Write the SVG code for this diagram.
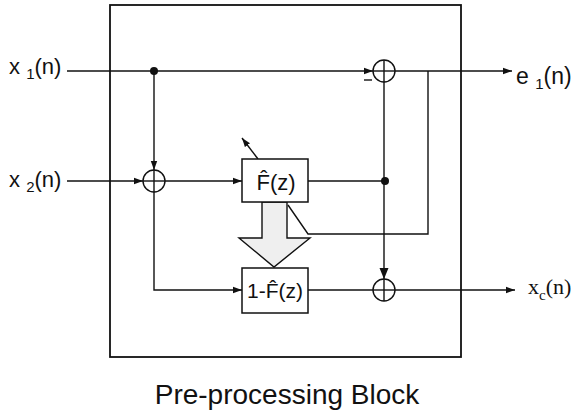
<svg xmlns="http://www.w3.org/2000/svg" width="575" height="414" viewBox="0 0 575 414">
<style>
.ln{fill:none;stroke:#111;stroke-width:1.4}
.box{fill:#fff;stroke:#111;stroke-width:1.5}
.sum{fill:#fff;stroke:#111;stroke-width:1.4}
.lbl{font-family:"Liberation Sans",Arial,sans-serif;fill:#111}
.ser{font-family:"Liberation Serif","Times New Roman",serif;fill:#111}
</style>
<defs>
<marker id="ah" markerUnits="userSpaceOnUse" markerWidth="10" markerHeight="8" refX="9" refY="4" orient="auto">
<path d="M0,0.8 L9,4 L0,7.2 Z" fill="#111"/>
</marker>
<marker id="ahL" markerUnits="userSpaceOnUse" markerWidth="12" markerHeight="10" refX="11" refY="5" orient="auto">
<path d="M0,0.5 L11,5 L0,9.5 Z" fill="#111"/>
</marker>
</defs>
<rect id="outer" x="110" y="5" width="351" height="352" fill="none" stroke="#111" stroke-width="1.8"/>
<g id="connectors">
<line class="ln" x1="67" y1="71" x2="373" y2="71" marker-end="url(#ah)"/>
<line class="ln" x1="154" y1="71" x2="154" y2="170" marker-end="url(#ah)"/>
<line class="ln" x1="67" y1="181" x2="143" y2="181" marker-end="url(#ah)"/>
<line class="ln" x1="165" y1="181" x2="242" y2="181" marker-end="url(#ah)"/>
<polyline class="ln" points="154,192 154,290 242,290" marker-end="url(#ah)"/>
<line class="ln" x1="308" y1="181" x2="385" y2="181"/>
<line class="ln" x1="384" y1="82" x2="384" y2="279" marker-end="url(#ahL)"/>
<line class="ln" x1="395" y1="71" x2="512" y2="71" marker-end="url(#ah)"/>
<polyline class="ln" points="428,71 428,234 308,234 288,205"/>
<line class="ln" x1="258" y1="159" x2="242" y2="138" marker-end="url(#ah)"/>
<line class="ln" x1="308" y1="290" x2="373" y2="290"/>
<line class="ln" x1="395" y1="290" x2="515" y2="290" marker-end="url(#ah)"/>
<circle cx="154" cy="71" r="4" fill="#111"/>
<circle cx="385" cy="181" r="4" fill="#111"/>
<line class="ln" x1="364" y1="80" x2="372" y2="80"/>
</g>
<g id="fat-arrow">
<polygon points="262,202 287,202 287,238 310,238 274,267 239,238 262,238" fill="#efefef" stroke="#111" stroke-width="1.4"/>
</g>
<g id="sum1">
<circle class="sum" cx="154" cy="181" r="11"/>
<line class="ln" x1="143" y1="181" x2="165" y2="181"/>
<line class="ln" x1="154" y1="170" x2="154" y2="192"/>
</g>
<g id="sum-top">
<circle class="sum" cx="384" cy="71" r="11"/>
<line class="ln" x1="373" y1="71" x2="395" y2="71"/>
<line class="ln" x1="384" y1="60" x2="384" y2="82"/>
</g>
<g id="sum-bottom">
<circle class="sum" cx="384" cy="290" r="11"/>
<line class="ln" x1="373" y1="290" x2="395" y2="290"/>
<line class="ln" x1="384" y1="279" x2="384" y2="301"/>
</g>
<g id="F">
<rect class="box" x="242" y="159" width="66" height="43"/>
<text class="lbl" x="276" y="190" font-size="22" text-anchor="middle">F̂(z)</text>
</g>
<g id="oneMinusF">
<rect class="box" x="242" y="268" width="66" height="45"/>
<text class="lbl" x="275" y="298" font-size="21" text-anchor="middle">1-F̂(z)</text>
</g>
<g id="x1">
<text class="lbl" x="9" y="74" font-size="22">x <tspan font-size="15" dy="5">1</tspan><tspan dy="-5">(n)</tspan></text>
</g>
<g id="x2">
<text class="lbl" x="9" y="187" font-size="22">x <tspan font-size="15" dy="5">2</tspan><tspan dy="-5">(n)</tspan></text>
</g>
<g id="e1">
<text class="lbl" x="516" y="84" font-size="23">e <tspan font-size="15" dy="5">1</tspan><tspan dy="-5">(n)</tspan></text>
</g>
<g id="xc">
<text class="ser" x="528" y="294" font-size="22">x<tspan font-size="15" dy="6">c</tspan><tspan dy="-6">(n)</tspan></text>
</g>
<text class="lbl" x="287" y="404" font-size="28" text-anchor="middle">Pre-processing Block</text>
</svg>
